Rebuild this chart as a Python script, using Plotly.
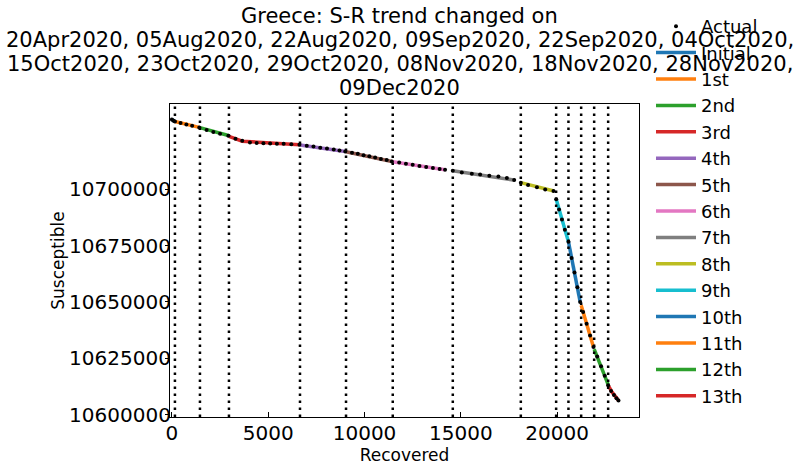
import plotly.graph_objects as go

# ---- data ----
actual_recovered = [
    0, 80, 156, 450, 750, 1050, 1420, 1800, 2150, 2500, 2930,
    3300, 3650, 4050, 4400, 4750, 5100, 5450, 5800, 6200, 6620,
    7000, 7350, 7700, 8050, 8400, 8700, 9000,
    9350, 9650, 9950, 10250, 10550, 10850, 11150, 11420,
    11800, 12150, 12500, 12850, 13200, 13550, 13900, 14180,
    14582, 15050, 15570, 16000, 16480, 16950, 17390, 17770,
    18114, 18490, 18950, 19380, 19810,
    19950, 20100, 20250, 20400, 20587,
    20750, 20900, 21050, 21195,
    21350, 21530, 21710, 21886,
    22080, 22280, 22470, 22649,
    22800, 22950, 23080, 23184,
]
actual_susceptible = [
    10730900, 10730400, 10730000, 10729300, 10728700, 10728100, 10727400, 10726300, 10725400, 10724600, 10723700,
    10722400, 10721500, 10720700, 10720500, 10720400, 10720300, 10720200, 10720100, 10719900, 10719700,
    10719300, 10718900, 10718400, 10718000, 10717600, 10717200, 10716700,
    10716200, 10715700, 10715100, 10714600, 10714000, 10713400, 10712900, 10712300,
    10711800, 10711300, 10710800, 10710300, 10709800, 10709400, 10708900, 10708600,
    10708200, 10707400, 10706800, 10706500, 10706000, 10705600, 10704900, 10704100,
    10702900, 10701900, 10700800, 10699900, 10699200,
    10695500, 10691000, 10686500, 10682000, 10676700,
    10669500, 10663000, 10656500, 10650000,
    10645500, 10640300, 10635100, 10630000,
    10625800, 10621400, 10617200, 10613000,
    10610500, 10608700, 10607300, 10606300,
]

phase_names = ["Initial", "1st", "2nd", "3rd", "4th", "5th", "6th", "7th",
               "8th", "9th", "10th", "11th", "12th", "13th"]
phase_recovered = [
    [0, 156], [156, 1420], [1455, 2930], [2961, 3650, 6620], [6649, 9000],
    [9039, 11420], [11465, 14180], [14582, 17800], [18114, 19830],
    [19948, 20587], [20587, 21195], [21247, 21886], [21922, 22649],
    [22649, 22842, 23184],
]
phase_susceptible = [
    [10730900, 10730000], [10730000, 10727400], [10727300, 10723800],
    [10723400, 10721300, 10719700], [10719600, 10716700], [10716600, 10712300],
    [10712200, 10708600], [10708200, 10704000], [10702900, 10699200],
    [10695600, 10676700], [10676700, 10650000], [10648500, 10630000],
    [10629000, 10613300], [10613000, 10610050, 10606300],
]
change_recovered = [156, 1455, 2961, 6649, 9039, 11465, 14582, 18114,
                    19948, 20587, 21247, 21922, 22649]
change_dates = ["20Apr2020", "05Aug2020", "22Aug2020", "09Sep2020", "22Sep2020",
                "04Oct2020", "15Oct2020", "23Oct2020", "29Oct2020", "08Nov2020",
                "18Nov2020", "28Nov2020", "09Dec2020"]
x_ticks = [0, 5000, 10000, 15000, 20000]
y_ticks = [10600000, 10625000, 10650000, 10675000, 10700000]

colors = ["#1f77b4", "#ff7f0e", "#2ca02c", "#d62728", "#9467bd", "#8c564b",
          "#e377c2", "#7f7f7f", "#bcbd22", "#17becf"]

FONT = "DejaVu Sans"
W, H = 799, 468
ML, MR, MT, MB = 170, 160, 104, 51
PH = H - MT - MB

fig = go.Figure()

for i, name in enumerate(phase_names):
    fig.add_trace(go.Scatter(
        x=phase_recovered[i], y=phase_susceptible[i], mode="lines", name=name,
        line=dict(color=colors[i % len(colors)], width=3.5),
        legendrank=10 + i,
    ))

fig.add_trace(go.Scatter(
    x=actual_recovered, y=actual_susceptible, mode="markers", name="Actual",
    marker=dict(color="black", size=4),
    legendrank=1,
))

for xv in change_recovered:
    fig.add_vline(x=xv, line=dict(color="black", width=2.5, dash="2.5px,4.5px"))

title_lines = ["Greece: S-R trend changed on",
               ", ".join(change_dates[:6]) + ",",
               ", ".join(change_dates[6:12]) + ",",
               change_dates[12]]
title_centers_px = [16, 40, 64, 88]
for txt, py in zip(title_lines, title_centers_px):
    fig.add_annotation(text=txt, xref="paper", yref="paper", x=0.49,
                       y=(H - MB - py) / PH, xanchor="center", yanchor="middle",
                       showarrow=False,
                       font=dict(family=FONT, size=21, color="black"))

fig.update_layout(
    width=W, height=H,
    margin=dict(l=ML, r=MR, t=MT, b=MB, autoexpand=False),
    paper_bgcolor="white", plot_bgcolor="white",
    font=dict(family=FONT, size=17, color="black"),
    showlegend=True,
    legend=dict(x=(651 - ML) / (W - ML - MR), xanchor="left", xref="paper",
                y=1 - 8 / H, yref="container", yanchor="top",
                maxheight=1.0,
                bgcolor="rgba(0,0,0,0)", borderwidth=0,
                font=dict(family=FONT, size=18, color="black"),
                itemwidth=40, tracegroupgap=0),
    xaxis=dict(range=[-100, 24250], tickvals=x_ticks, tickformat="d",
               automargin=False,
               showgrid=False, zeroline=False, showline=True, mirror=True,
               linecolor="black", linewidth=1.2, ticks="inside", ticklen=5,
               tickcolor="black", tickfont=dict(family=FONT, size=20),
               ticklabelstandoff=-2,
               title=dict(text="Recovered", standoff=0,
                          font=dict(family=FONT, size=17))),
    yaxis=dict(range=[10598930, 10737780], tickvals=y_ticks, tickformat="d",
               automargin=False,
               showgrid=False, zeroline=False, showline=True, mirror=True,
               linecolor="black", linewidth=1.2, ticks="outside", ticklen=4,
               tickcolor="black", tickfont=dict(family=FONT, size=20),
               ticklabelstandoff=-10,
               title=dict(text="Susceptible", standoff=0,
                          font=dict(family=FONT, size=17))),
)

fig.write_html(
    "out.html",
    config={"displayModeBar": False},
    post_script="document.body.style.margin='0';document.body.style.overflow='hidden';",
)
